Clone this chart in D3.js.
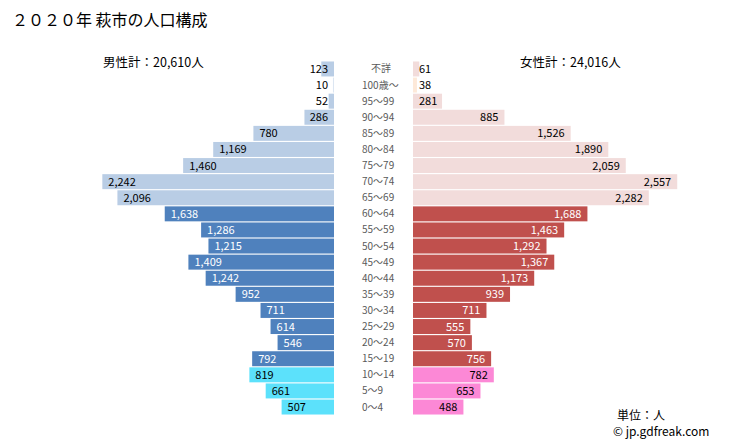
<!DOCTYPE html>
<html><head><meta charset="utf-8">
<script src="https://cdn.jsdelivr.net/npm/d3@7/dist/d3.min.js"></script>
<style>
html,body{margin:0;padding:0;background:#fff;}
text{font-family:"Noto Sans CJK JP","Noto Sans",sans-serif;}
</style></head>
<body><svg id="c" width="729" height="446"></svg>
<script>
const ages = ["不詳","100歳～","95～99","90～94","85～89","80～84","75～79","70～74","65～69","60～64","55～59","50～54","45～49","40～44","35～39","30～34","25～29","20～24","15～19","10～14","5～9","0～4"];
const male = [123,10,52,286,780,1169,1460,2242,2096,1638,1286,1215,1409,1242,952,711,614,546,792,819,661,507];
const female = [61,38,281,885,1526,1890,2059,2557,2282,1688,1463,1292,1367,1173,939,711,555,570,756,782,653,488];
const groups = ["old","old100","old","old","old","old","old","old","old","work","work","work","work","work","work","work","work","work","work","child","child","child"];
const title = "２０２０年 萩市の人口構成";
const maleTotal = "男性計：20,610人";
const femaleTotal = "女性計：24,016人";

const maleColor = {old:"#b9cde5", old100:"#dce6f2", work:"#4f81bd", child:"#5ce1fb"};
const femaleColor = {old:"#f2dcdb", old100:"#fde9d9", work:"#c0504d", child:"#fc88d6"};
const textColor = {old:"#000", old100:"#000", work:"#fff", child:"#000"};

const svg = d3.select("#c");
const fmt = d3.format(",");
const y = d3.scaleBand().domain(ages).range([61, 415]).paddingInner(0.07).paddingOuter(0.03);
const xm = d3.scaleLinear().domain([0, 3000]).range([334, 24]);
const xf = d3.scaleLinear().domain([0, 3000]).range([413, 723]);

svg.append("text").attr("x", 12).attr("y", 26).attr("font-size", 16).attr("fill", "#000").text(title);
svg.append("text").attr("x", 103).attr("y", 67).attr("font-size", 12.5).attr("fill", "#000").text(maleTotal);
svg.append("text").attr("x", 520).attr("y", 67).attr("font-size", 12.5).attr("fill", "#000").text(femaleTotal);

const rows = ages.map((a, i) => ({age: a, m: male[i], f: female[i], g: groups[i]}));

svg.append("g").selectAll("rect").data(rows).join("rect")
  .attr("x", d => xm(d.m)).attr("y", d => y(d.age))
  .attr("width", d => xm(0) - xm(d.m)).attr("height", y.bandwidth())
  .attr("fill", d => maleColor[d.g]);
svg.append("g").selectAll("rect").data(rows).join("rect")
  .attr("x", xf(0)).attr("y", d => y(d.age))
  .attr("width", d => xf(d.f) - xf(0)).attr("height", y.bandwidth())
  .attr("fill", d => femaleColor[d.g]);

const fs = 11;
const ml = svg.append("g").selectAll("text").data(rows).join("text")
  .attr("font-size", fs).attr("y", d => y(d.age) + y.bandwidth()/2 + 4)
  .attr("fill", d => textColor[d.g]).text(d => fmt(d.m));
ml.each(function(d){
  const w = this.getComputedTextLength();
  const x = Math.min(xm(d.m) + 6, 328 - w);
  d3.select(this).attr("x", x);
});
const fl = svg.append("g").selectAll("text").data(rows).join("text")
  .attr("font-size", fs).attr("y", d => y(d.age) + y.bandwidth()/2 + 4)
  .attr("fill", d => textColor[d.g]).text(d => fmt(d.f));
fl.each(function(d){
  const w = this.getComputedTextLength();
  const xe = Math.max(xf(d.f) - 6, 419 + w);
  d3.select(this).attr("x", xe - w);
});
svg.append("g").selectAll("text").data(rows).join("text")
  .attr("font-size", 10).attr("fill", "#595959")
  .attr("y", d => y(d.age) + y.bandwidth()/2 + 3.5)
  .attr("x", (d, i) => i === 0 ? 381 : 362)
  .attr("text-anchor", (d, i) => i === 0 ? "middle" : "start")
  .text(d => d.age);

svg.append("text").attr("x", 617).attr("y", 420).attr("font-size", 12).attr("fill", "#000").text("単位：人");
svg.append("text").attr("x", 613).attr("y", 436).attr("font-size", 12).attr("fill", "#000").text("© jp.gdfreak.com");
</script></body></html>
